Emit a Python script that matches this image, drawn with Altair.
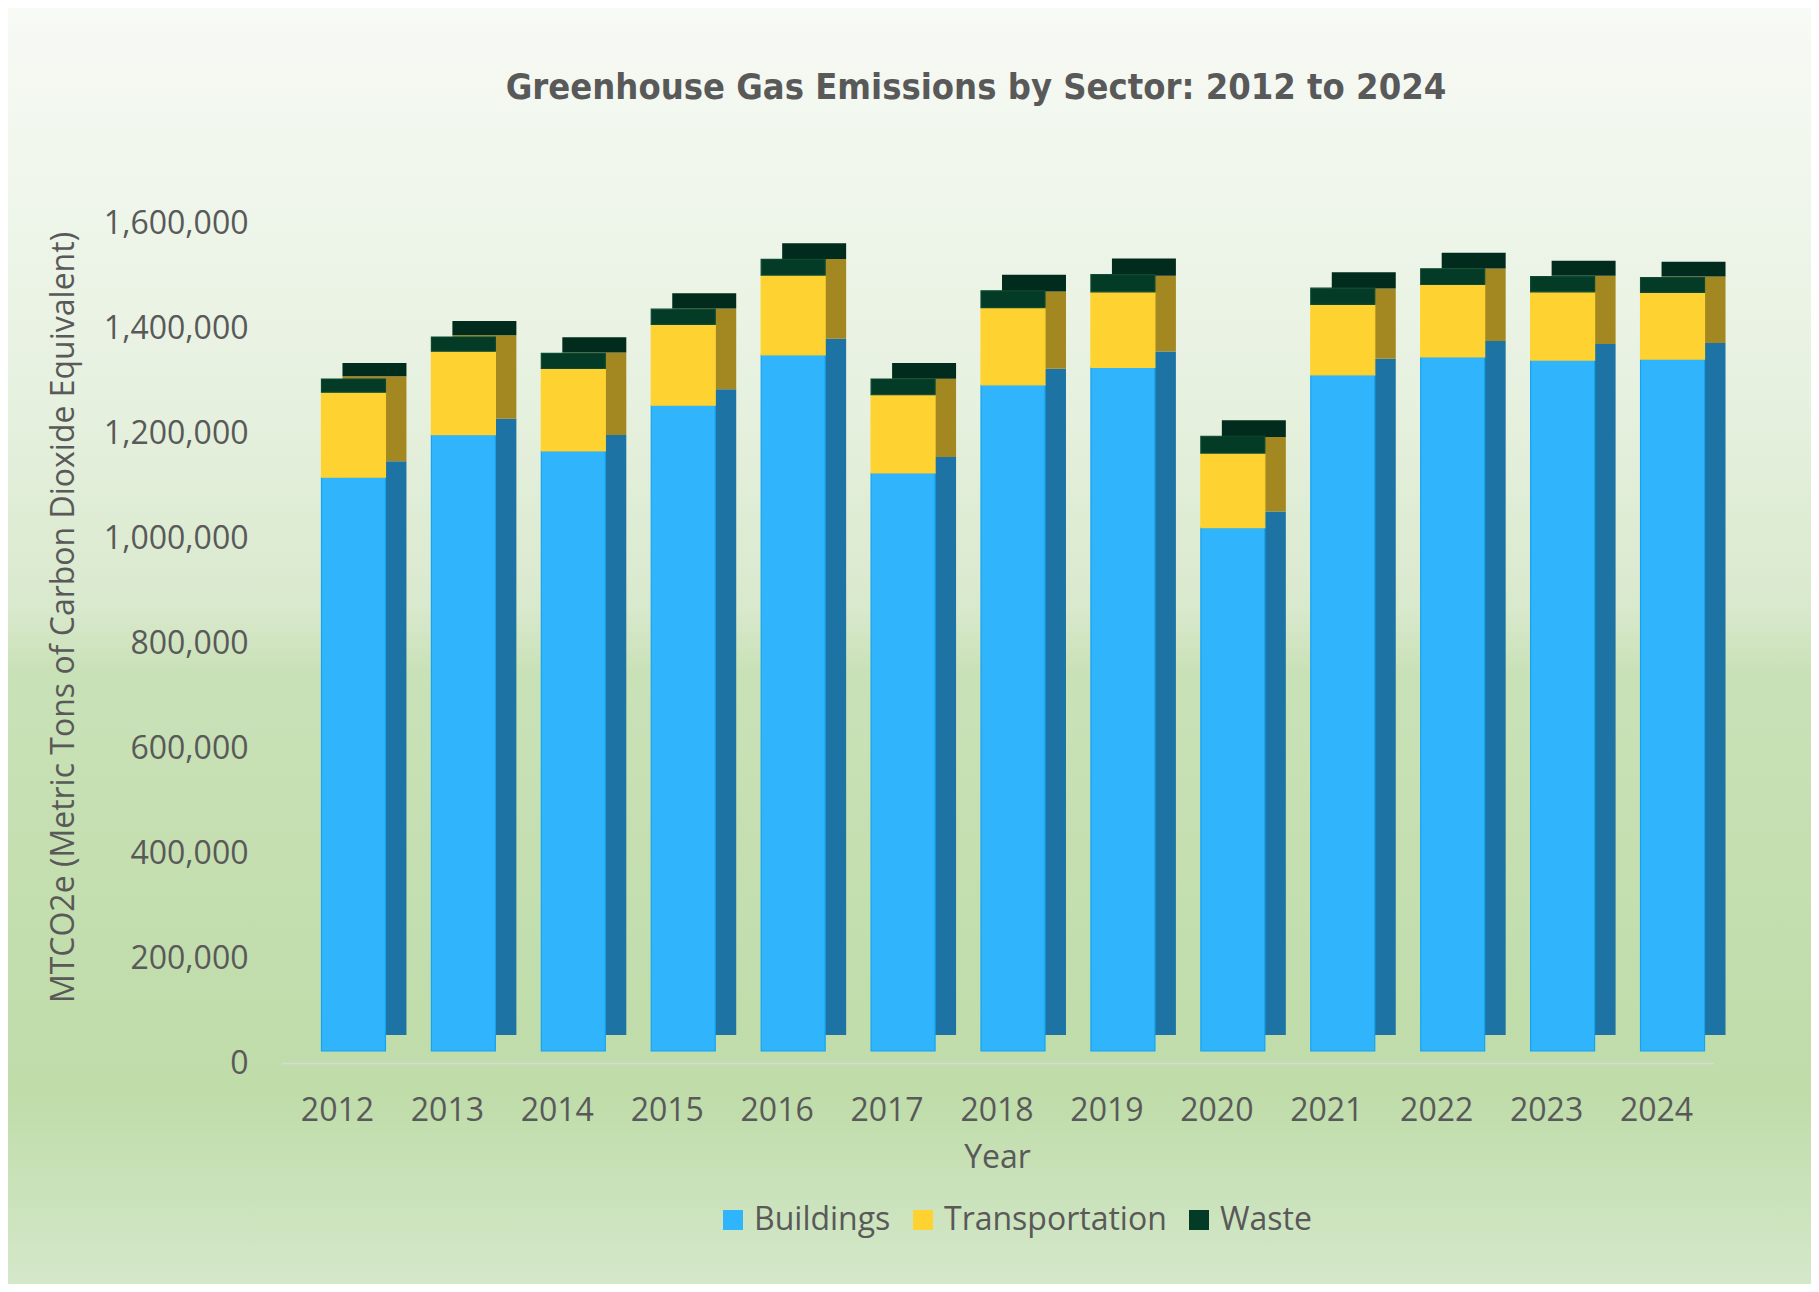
import altair as alt
import pandas as pd

# ---- data ----
years = ["2012", "2013", "2014", "2015", "2016", "2017", "2018",
         "2019", "2020", "2021", "2022", "2023", "2024"]
buildings = [1093000, 1174000, 1143000, 1230000, 1326000, 1101000, 1269000,
             1302000, 997000, 1288000, 1322000, 1316000, 1318000]
transportation = [162000, 159000, 157000, 154000, 152000, 149000, 147000,
                  144000, 142000, 134000, 138000, 130000, 127000]
waste = [25000, 27000, 29000, 29000, 30000, 30000, 32000,
         33000, 32000, 31000, 30000, 29000, 28000]

sectors = ["Buildings", "Transportation", "Waste"]
front_colors = ["#30b5fc", "#fed331", "#033b27"]
side_colors = ["#1d74a4", "#a38720", "#012b1c"]
edge_colors = ["#17a3ee", "#fed331", "#0d4a33"]
y_ticks = [0, 200000, 400000, 600000, 800000, 1000000, 1200000, 1400000, 1600000]

title_text = "Greenhouse Gas Emissions by Sector: 2012 to 2024"
y_title = "MTCO2e (Metric Tons of Carbon Dioxide Equivalent)"

rows = []
for i, yr in enumerate(years):
    for k, (s, vals) in enumerate(zip(sectors, [buildings, transportation, waste])):
        rows.append({"year": yr, "sector": s, "value": vals[i], "order": k,
                     "side": side_colors[k], "edge": edge_colors[k]})
df = pd.DataFrame(rows)

W, H = 1432, 840
PAD = {"left": 273, "top": 215, "right": 98, "bottom": 221}
TXT = "#595959"
FONT = "Open Sans"
TITLE_FONT = "DejaVu Sans Condensed, Roboto Condensed, Liberation Sans Narrow, Noto Sans"

x_enc = alt.X(
    "year:N", sort=years, title="Year",
    scale=alt.Scale(paddingInner=0.418, paddingOuter=0.2227),
    axis=alt.Axis(labelAngle=0, labelFontSize=32, labelFont=FONT, labelColor=TXT,
                  labelBaseline="alphabetic", labelPadding=57, ticks=False, tickSize=0,
                  domain=True, domainColor="#d9d9d9", domainWidth=1.3, grid=False,
                  titleFontSize=32, titleFont=FONT, titleColor=TXT, titleFontWeight="normal",
                  titleBaseline="alphabetic", titleY=104, zindex=1),
)
y_enc = alt.Y(
    "value:Q", stack="zero", title=y_title,
    scale=alt.Scale(domain=[0, 1600000], nice=False),
    axis=alt.Axis(values=y_ticks, format=",.0f", labelFontSize=32, labelFont=FONT,
                  labelColor=TXT, labelPadding=33, ticks=False, tickSize=0, domain=False,
                  grid=False, titleFontSize=32, titleFont=FONT, titleColor=TXT,
                  titleFontWeight="normal", titleAngle=270, titleBaseline="alphabetic",
                  titleAlign="center", titleX=-208, titleY=394, zindex=1),
)
order_enc = alt.Order("order:Q", sort="ascending")

bg = alt.Chart(pd.DataFrame({"a": [0]})).mark_rect(
    color=alt.LinearGradient(
        gradient="linear", x1=0, x2=0, y1=0, y2=1,
        stops=[
            alt.GradientStop(color="#f7faf5", offset=0.0),
            alt.GradientStop(color="#e7f1e0", offset=0.30),
            alt.GradientStop(color="#d9e9cd", offset=0.47),
            alt.GradientStop(color="#c9e1b7", offset=0.52),
            alt.GradientStop(color="#bfdca9", offset=0.85),
            alt.GradientStop(color="#d4e8ca", offset=1.0),
        ],
    )
).encode(
    x=alt.value(-PAD["left"]), x2=alt.value(W + PAD["right"]),
    y=alt.value(-PAD["top"]), y2=alt.value(H + PAD["bottom"]),
)

# 3D look: darker copy shifted up-right (side and top faces), then the front faces
back = alt.Chart(df).mark_bar(xOffset=37, x2Offset=37, yOffset=-28, y2Offset=-28).encode(
    x=x_enc, y=y_enc, color=alt.Color("side:N", scale=None), order=order_enc,
)

front = alt.Chart(df).mark_bar(xOffset=16, x2Offset=16, yOffset=-12, y2Offset=-12,
                               strokeWidth=1.2).encode(
    x=x_enc, y=y_enc,
    color=alt.Color(
        "sector:N", sort=sectors,
        scale=alt.Scale(domain=sectors, range=front_colors),
        legend=alt.Legend(title=None, orient="none", legendX=436, legendY=981,
                          direction="horizontal", columns=3, labelFontSize=32,
                          labelFont=FONT, labelColor=TXT, symbolType="square",
                          symbolSize=400, symbolStrokeWidth=0, labelOffset=5,
                          columnPadding=16, padding=0, labelLimit=0),
    ),
    stroke=alt.Stroke("edge:N", scale=None),
    order=order_enc,
)

chart = alt.layer(bg, back, front).resolve_scale(color="independent").properties(
    width=W, height=H, padding=PAD,
    autosize=alt.AutoSizeParams(type="none"),
    background="#dcebd1",
    title=alt.TitleParams(
        title_text, anchor="middle", frame="group", dx=-21, offset=0, dy=127,
        baseline="alphabetic",
        font=TITLE_FONT, fontSize=36, fontWeight="bold", color=TXT,
    ),
).configure_view(stroke=None)

chart.save("out.html", embed_options={"renderer": "svg", "actions": False})
